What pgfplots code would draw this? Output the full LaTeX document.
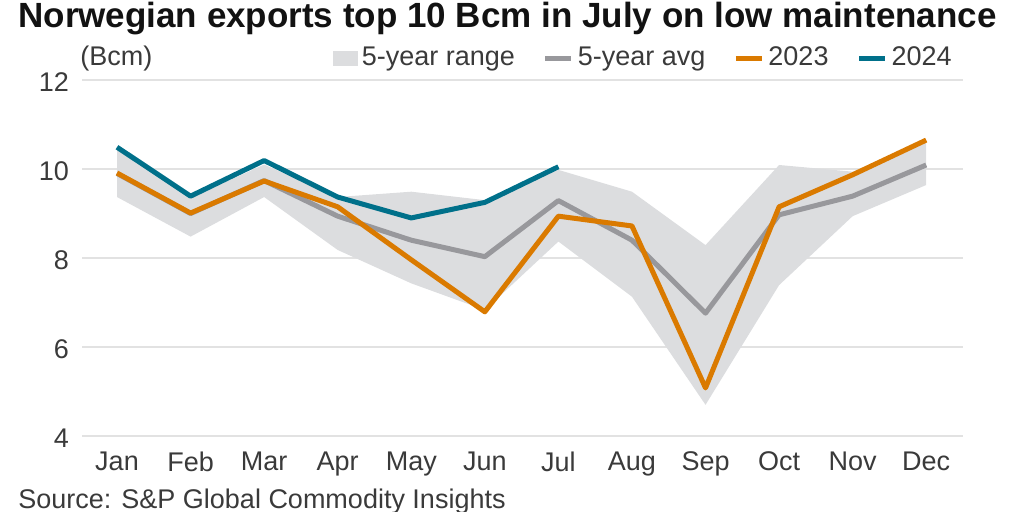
\documentclass[border=0pt]{standalone}
\usepackage{fontspec}
\setmainfont{Liberation Sans}
\usepackage{pgfplots}
\pgfplotsset{compat=1.18}

\definecolor{teal24}{RGB}{0,112,138}
\definecolor{orange23}{RGB}{218,122,0}
\definecolor{avggray}{RGB}{152,152,156}
\definecolor{rangegray}{RGB}{220,221,223}
\definecolor{gridgray}{RGB}{226,226,226}
\definecolor{txt}{RGB}{58,58,58}

\newcommand{\lbl}{\fontsize{13.5}{16}\selectfont}

\begin{document}
\begin{tikzpicture}
\useasboundingbox (0,0) rectangle (512pt,256pt);
% title and source
\node[anchor=base west, inner sep=0pt, font=\bfseries\fontsize{17.5}{20}\selectfont, text=black!93]
  at (9pt,242pt) {Norwegian exports top 10 Bcm in July on low maintenance};
\node[anchor=base west, inner sep=0pt, font=\lbl, text=txt]
  at (9pt,1.5pt) {Source: S\&P Global Commodity Insights};
\node[anchor=base west, inner sep=0pt, font=\lbl, text=txt]
  at (40pt,223pt) {(Bcm)};

\begin{axis}[
    at={(41pt,38pt)}, anchor=south west,
    scale only axis, width=440.5pt, height=178pt,
    xmin=-0.476, xmax=11.5,
    ymin=4, ymax=12,
    xtick={0,...,11},
    xticklabels={Jan,Feb,Mar,Apr,May,Jun,Jul,Aug,Sep,Oct,Nov,Dec},
    ytick={4,6,8,10,12},
    ymajorgrids,
    grid style={gridgray, line width=0.8pt},
    axis line style={draw=none},
    tick style={draw=none},
    ticklabel style={font=\lbl, text=txt},
    xticklabel style={yshift=-4.5pt},
    yticklabel style={xshift=-3pt, yshift=-1pt},
    /pgf/number format/assume math mode=true,
    legend columns=4,
    legend style={at={(1,1)}, anchor=east, xshift=-3.5pt, yshift=11pt,
        draw=none, fill=none, inner sep=0pt, font=\lbl, text=txt,
        nodes={inner sep=2pt},
        /tikz/every even column/.append style={column sep=12pt}},
    every axis plot/.append style={line width=2.5pt, line join=round},
]
% 5-year range: upper Jan..Dec, then lower Dec..Jan
\addplot[fill=rangegray, draw=none,
    legend image code/.code={\fill[rangegray] (0pt,-3.75pt) rectangle (12.5pt,3.75pt);}]
    coordinates {
    (0,10.45) (1,9.35) (2,10.1) (3,9.37) (4,9.49) (5,9.30)
    (6,9.98) (7,9.49) (8,8.29) (9,10.09) (10,9.94) (11,10.62)
    (11,9.64) (10,8.94) (9,7.39) (8,4.70) (7,7.13) (6,8.37)
    (5,6.83) (4,7.43) (3,8.18) (2,9.37) (1,8.48) (0,9.37)
    } -- cycle;

\addplot[avggray,
    legend image code/.code={\draw[avggray, line width=2.5pt] (0pt,0pt) -- (13pt,0pt);}]
    coordinates {
    (0,9.90) (1,9.00) (2,9.74) (3,8.94) (4,8.40) (5,8.03)
    (6,9.29) (7,8.40) (8,6.76) (9,8.97) (10,9.39) (11,10.09)
    };

\addplot[orange23,
    legend image code/.code={\draw[orange23, line width=2.5pt] (0pt,0pt) -- (13pt,0pt);}]
    coordinates {
    (0,9.91) (1,9.01) (2,9.73) (3,9.15) (4,7.96) (5,6.79)
    (6,8.94) (7,8.72) (8,5.08) (9,9.15) (10,9.87) (11,10.65)
    };

\addplot[teal24,
    legend image code/.code={\draw[teal24, line width=2.5pt] (0pt,0pt) -- (13pt,0pt);}]
    coordinates {
    (0,10.49) (1,9.39) (2,10.19) (3,9.37) (4,8.90) (5,9.25) (6,10.05)
    };

\legend{5-year range, 5-year avg, 2023, 2024}
\end{axis}
\end{tikzpicture}
\end{document}
